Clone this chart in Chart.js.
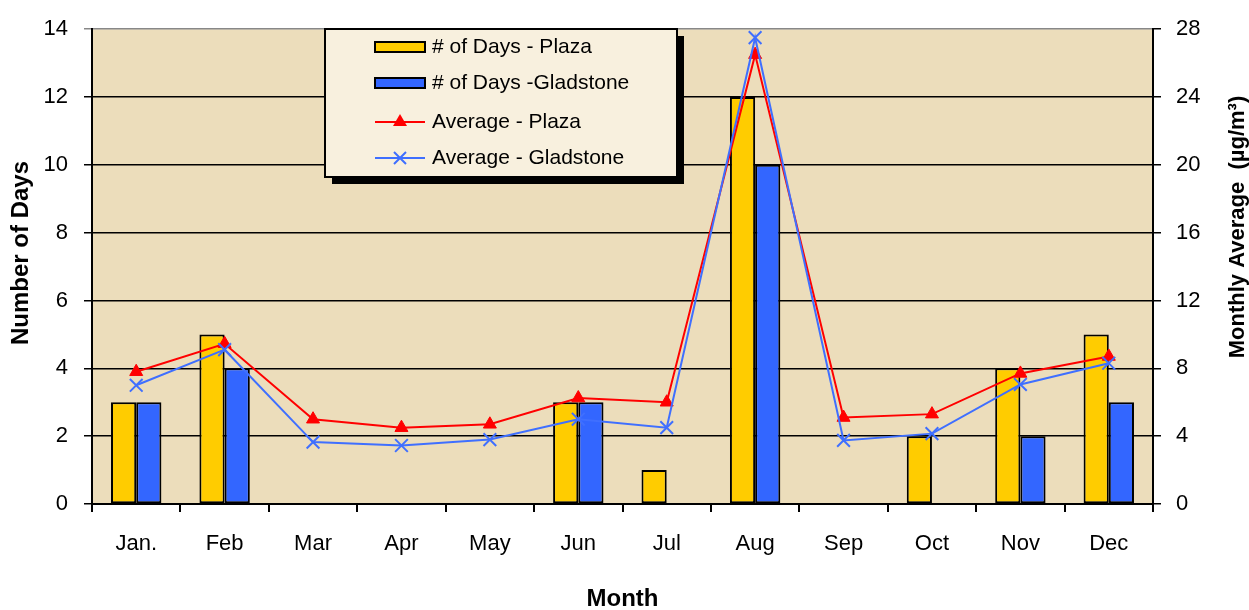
<!DOCTYPE html>
<html>
<head>
<meta charset="utf-8">
<script src="https://cdn.jsdelivr.net/npm/chart.js@4.4.1/dist/chart.umd.min.js"></script>
<style>
  html, body { margin: 0; padding: 0; background: #fff; }
  #wrap { width: 1249px; height: 610px; }
</style>
</head>
<body>
<div id="wrap"><canvas id="c" width="1249" height="610"></canvas></div>
<script>
const months = ["Jan.", "Feb", "Mar", "Apr", "May", "Jun", "Jul", "Aug", "Sep", "Oct", "Nov", "Dec"];
const daysPlaza = [3, 5, 0, 0, 0, 3, 1, 12, 0, 2, 4, 5];
const daysGladstone = [3, 4, 0, 0, 0, 3, 0, 10, 0, 0, 2, 3];
const avgPlaza = [7.8, 9.45, 5.0, 4.5, 4.7, 6.25, 6.0, 26.5, 5.1, 5.3, 7.7, 8.7];
const avgGladstone = [7.0, 9.1, 3.65, 3.45, 3.8, 5.0, 4.5, 27.5, 3.75, 4.15, 7.05, 8.3];
const labels = ["# of Days - Plaza", "# of Days -Gladstone", "Average - Plaza", "Average - Gladstone"];

const FONT = "'Liberation Sans', Arial, sans-serif";
const GOLD = "#FFCC00";
const BLUE = "#3366FF";
const RED = "#FF0000";
const LINEBLUE = "#3F6FFF";

function sideTitle(ctx, text, x, y, size) {
  ctx.save();
  ctx.translate(x, y);
  ctx.rotate(-Math.PI / 2);
  ctx.font = "bold " + size + "px " + FONT;
  ctx.fillStyle = "#000";
  ctx.textAlign = "center";
  ctx.textBaseline = "middle";
  ctx.fillText(text, 0, 0);
  ctx.restore();
}

// sandy plot background, axis titles reading upwards, boxed legend with shadow
const decor = {
  id: "decor",
  beforeDraw(chart) {
    const { ctx, chartArea: a } = chart;
    ctx.save();
    ctx.fillStyle = "#ECDDBB";
    ctx.fillRect(a.left, a.top, a.right - a.left, a.bottom - a.top);
    ctx.restore();
  },
  afterDraw(chart) {
    const ctx = chart.ctx;
    sideTitle(ctx, "Number of Days", 21, 253, 24);
    sideTitle(ctx, "Monthly Average  (\u00b5g/m\u00b3)", 1238, 227, 22);

    // legend
    const bx = 325, by = 29, bw = 352, bh = 148;
    ctx.save();
    ctx.fillStyle = "#000";
    ctx.fillRect(bx + 7, by + 7, bw, bh);
    ctx.fillStyle = "#F8F0DE";
    ctx.fillRect(bx, by, bw, bh);
    ctx.lineWidth = 2;
    ctx.strokeStyle = "#000";
    ctx.strokeRect(bx, by, bw, bh);

    const rows = [47, 83, 122, 158];
    const ds = chart.data.datasets;
    ctx.font = "21px " + FONT;
    ctx.textBaseline = "middle";
    ctx.textAlign = "left";
    ds.forEach((d, i) => {
      const y = rows[i];
      if (d.type === "bar") {
        ctx.fillStyle = d.backgroundColor;
        ctx.fillRect(375, y - 5, 50, 10);
        ctx.lineWidth = 2;
        ctx.strokeStyle = "#000";
        ctx.strokeRect(375, y - 5, 50, 10);
      } else {
        ctx.strokeStyle = d.borderColor;
        ctx.lineWidth = 2;
        ctx.beginPath();
        ctx.moveTo(375, y);
        ctx.lineTo(425, y);
        ctx.stroke();
        if (d.pointStyle === "triangle") {
          ctx.fillStyle = d.borderColor;
          ctx.beginPath();
          ctx.moveTo(400, y - 8);
          ctx.lineTo(407, y + 4);
          ctx.lineTo(393, y + 4);
          ctx.closePath();
          ctx.fill();
        } else {
          ctx.beginPath();
          ctx.moveTo(394, y - 6); ctx.lineTo(406, y + 6);
          ctx.moveTo(406, y - 6); ctx.lineTo(394, y + 6);
          ctx.stroke();
        }
      }
      ctx.fillStyle = "#000";
      ctx.fillText(d.label, 432, y);
    });
    ctx.restore();
  }
};

new Chart(document.getElementById("c"), {
  data: {
    labels: months,
    datasets: [
      {
        type: "bar", label: labels[0], data: daysPlaza, yAxisID: "y",
        backgroundColor: GOLD, borderColor: "#000", borderWidth: 2, borderSkipped: false,
        categoryPercentage: 0.57, barPercentage: 1, order: 2
      },
      {
        type: "bar", label: labels[1], data: daysGladstone, yAxisID: "y",
        backgroundColor: BLUE, borderColor: "#000", borderWidth: 2, borderSkipped: false,
        categoryPercentage: 0.57, barPercentage: 1, order: 2
      },
      {
        type: "line", label: labels[2], data: avgPlaza, yAxisID: "y1",
        borderColor: RED, backgroundColor: RED, borderWidth: 2,
        pointStyle: "triangle", pointRadius: 7.5, pointBorderWidth: 1,
        tension: 0, order: 1
      },
      {
        type: "line", label: labels[3], data: avgGladstone, yAxisID: "y1",
        borderColor: LINEBLUE, backgroundColor: LINEBLUE, borderWidth: 2,
        pointStyle: "crossRot", pointRadius: 9, pointBorderWidth: 2,
        tension: 0, order: 0
      }
    ]
  },
  options: {
    responsive: false,
    animation: false,
    layout: { padding: { top: 25, left: 0, right: 0, bottom: 0 } },
    plugins: {
      legend: { display: false },
      tooltip: { enabled: false }
    },
    scales: {
      x: {
        offset: true,
        afterFit(s) { s.height = 106; },
        grid: {
          offset: true, drawOnChartArea: false, drawTicks: true,
          tickLength: 8, color: "#000", lineWidth: 2
        },
        border: { color: "#000", width: 2 },
        ticks: { color: "#000", font: { family: FONT, size: 22 }, padding: 19, maxRotation: 0 },
        title: {
          display: true, text: "Month", color: "#000",
          font: { family: FONT, size: 24, weight: "bold" }, padding: { top: 0, bottom: -4 }
        }
      },
      y: {
        position: "left",
        min: 0, max: 14,
        afterFit(s) { s.width = 92; },
        ticks: { stepSize: 2, color: "#000", font: { family: FONT, size: 22 }, padding: 16 },
        grid: {
          color: (c) => (c.tick && c.tick.value === 14 ? "#888" : "#000"),
          lineWidth: 1.5, tickLength: 8
        },
        border: { color: "#000", width: 2 }
      },
      y1: {
        position: "right",
        min: 0, max: 28,
        afterFit(s) { s.width = 96; },
        ticks: { stepSize: 4, color: "#000", font: { family: FONT, size: 22 }, padding: 15 },
        grid: { drawOnChartArea: false, color: "#000", lineWidth: 1.5, tickLength: 8 },
        border: { color: "#000", width: 2 }
      }
    }
  },
  plugins: [decor]
});
</script>
</body>
</html>
